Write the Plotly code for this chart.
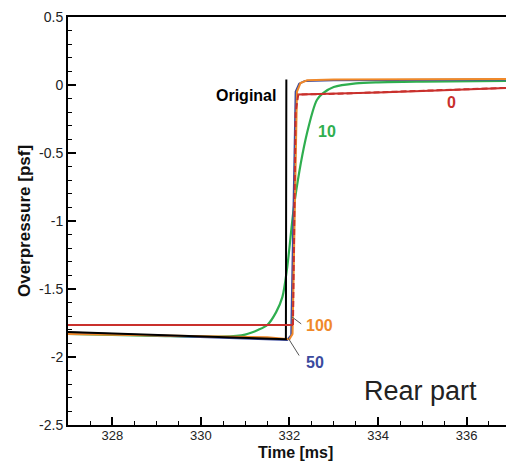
import plotly.graph_objects as go

# Time axis (ms) and overpressure (psf) for each signature
orig_t = [327.0, 329.5, 331.9, 331.92, 331.93]
orig_p = [-1.816, -1.846, -1.875, -1.87, 0.04]

s0_t = [327.0, 332.08, 332.14, 332.2, 333.0, 334.0, 335.0, 336.0, 337.0]
s0_p = [-1.765, -1.765, -0.2, -0.07, -0.065, -0.055, -0.045, -0.03, -0.02]

s10_t = [327.0, 329.0, 330.5, 331.0, 331.3, 331.5, 331.7, 331.84, 331.95, 332.12,
         332.4, 332.62, 332.76, 333.0, 333.5, 334.0, 335.0, 337.0]
s10_p = [-1.83, -1.845, -1.85, -1.835, -1.80, -1.765, -1.67, -1.56, -1.34, -0.85,
         -0.35, -0.11, -0.06, -0.015, 0.012, 0.02, 0.025, 0.03]

s50_t = [327.0, 331.95, 332.04, 332.14, 332.22, 332.35, 333.0, 337.0]
s50_p = [-1.82, -1.875, -1.84, -0.05, 0.01, 0.03, 0.035, 0.04]

s100_t = [327.0, 331.5, 332.0, 332.07, 332.17, 332.25, 332.4, 333.0, 337.0]
s100_p = [-1.83, -1.855, -1.87, -1.83, -0.05, 0.015, 0.035, 0.04, 0.045]

RED = "#c9302c"
GREEN = "#2fae4f"
BLUE = "#3b4a9e"
ORANGE = "#f0892a"

fig = go.Figure()
fig.add_trace(go.Scatter(x=s10_t, y=s10_p, mode="lines",
                         line=dict(color=GREEN, width=2.2, shape="spline", smoothing=0.8)))
fig.add_trace(go.Scatter(x=s50_t, y=s50_p, mode="lines", line=dict(color=BLUE, width=2)))
fig.add_trace(go.Scatter(x=s100_t, y=s100_p, mode="lines", line=dict(color=ORANGE, width=2)))
fig.add_trace(go.Scatter(x=s0_t, y=s0_p, mode="lines", line=dict(color=RED, width=2, dash="6px,3px")))
fig.add_trace(go.Scatter(x=orig_t, y=orig_p, mode="lines", line=dict(color="black", width=2)))
# red 0 keeps a solid line on the flat segments
fig.add_trace(go.Scatter(x=s0_t[:2], y=s0_p[:2], mode="lines", line=dict(color=RED, width=2)))
fig.add_trace(go.Scatter(x=s0_t[3:], y=s0_p[3:], mode="lines", line=dict(color=RED, width=2)))

bold = "Liberation Sans, Arial, sans-serif"
ann = [
    dict(x=331.74, y=-0.08, text="<b>Original</b>", xanchor="right", color="black", size=16),
    dict(x=332.6, y=-0.345, text="<b>10</b>", xanchor="left", color=GREEN, size=16),
    dict(x=335.67, y=-0.13, text="<b>0</b>", xanchor="center", color=RED, size=16),
    dict(x=332.33, y=-1.772, text="<b>100</b>", xanchor="left", color=ORANGE, size=16),
    dict(x=332.33, y=-2.037, text="<b>50</b>", xanchor="left", color=BLUE, size=16),
    dict(x=334.95, y=-2.25, text="Rear part", xanchor="center", color="#222", size=27),
]
for a in ann:
    fig.add_annotation(x=a["x"], y=a["y"], text=a["text"], xanchor=a["xanchor"],
                       yanchor="middle", showarrow=False,
                       font=dict(family=bold, size=a["size"], color=a["color"]))

# leader lines for the 100 and 50 labels
for (x0, y0, x1, y1) in [(332.06, -1.706, 332.3, -1.765), (331.97, -1.86, 332.24, -2.0)]:
    fig.add_annotation(x=x0, y=y0, ax=x1, ay=y1, axref="x", ayref="y", text="",
                       showarrow=True, arrowhead=0, arrowwidth=1, arrowcolor="#555")

fig.update_layout(
    width=506, height=461,
    margin=dict(l=68, r=0, t=17, b=36),
    paper_bgcolor="white", plot_bgcolor="white",
    showlegend=False,
    font=dict(family=bold, color="#222"),
)
fig.update_xaxes(
    range=[327, 336.89], showgrid=False, zeroline=False,
    showline=True, linecolor="black", linewidth=2, mirror=True,
    ticks="inside", ticklen=8, tickwidth=1.5, tickcolor="black",
    tickvals=[328, 330, 332, 334, 336], tickfont=dict(size=13), ticklabelstandoff=-3,
    minor=dict(dtick=0.5, tick0=327, ticks="inside", ticklen=4, tickcolor="black", tickwidth=1),
)
fig.add_annotation(xref="paper", yref="paper", x=0.52, y=0, yshift=-27, yanchor="middle",
                   text="<b>Time [ms]</b>", showarrow=False,
                   font=dict(family=bold, size=16, color="#111"))
fig.update_yaxes(
    range=[-2.5, 0.5], showgrid=False, zeroline=False,
    showline=True, linecolor="black", linewidth=2,
    ticks="inside", ticklen=8, tickwidth=1.5, tickcolor="black",
    tickvals=[-2.5, -2, -1.5, -1, -0.5, 0, 0.5],
    ticktext=["-2.5", "-2", "-1.5", "-1", "-0.5", "0", "0.5"],
    tickfont=dict(size=14),
    minor=dict(dtick=0.1, tick0=0, ticks="inside", ticklen=4, tickcolor="black", tickwidth=1),
    title=dict(text="<b>Overpressure [psf]</b>", font=dict(size=17, color="#111"), standoff=4),
)

fig.write_html("out.html")
